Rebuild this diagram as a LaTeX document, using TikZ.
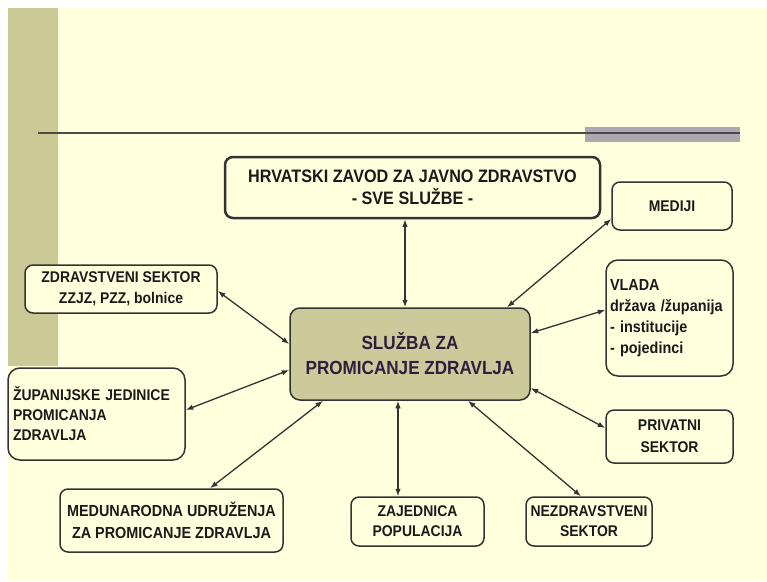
\documentclass[tikz,border=0pt]{standalone}
\usepackage{fontspec}
\setmainfont[FakeStretch=0.9]{Liberation Sans}
\usetikzlibrary{arrows.meta}
\definecolor{bgyel}{HTML}{FFFFDD}
\definecolor{band}{HTML}{CBCA96}
\definecolor{barg}{HTML}{ABA7B3}
\definecolor{linedark}{HTML}{4A4A4A}
\definecolor{boxline}{HTML}{333333}
\definecolor{centerfill}{HTML}{CACA9A}
\definecolor{centertext}{HTML}{2D1F3D}
\definecolor{txt}{HTML}{1A1A1A}
\tikzset{
  box/.style={draw=boxline, line width=1.5pt, rounded corners=8pt, fill=bgyel,
    inner sep=0pt, text=txt, font=\bfseries\fontsize{15.5}{21}\selectfont},
  arr/.style={draw=boxline, line width=1.3pt, {Latex[length=7.5pt,width=5.5pt]}-{Latex[length=7.5pt,width=5.5pt]}}
}
\begin{document}
\begin{tikzpicture}[x=1pt,y=-1pt]
\useasboundingbox (0,0) rectangle (767,581);
\fill[white] (0,0) rectangle (767,581);
\fill[bgyel] (8,8) rectangle (767,581);
\fill[band] (8,8) rectangle (58,366);
\fill[barg] (585,127) rectangle (740,142);
\draw[linedark, line width=2pt] (38,133) -- (740,133);

\node[box, line width=2.5pt, minimum width=375pt, minimum height=61pt, align=center,
  font=\bfseries\fontsize{18}{22}\selectfont] (hz) at (412.5,187.5)
  {HRVATSKI ZAVOD ZA JAVNO ZDRAVSTVO\\- SVE SLUŽBE -};
\node[box, minimum width=120pt, minimum height=48pt] (med) at (672,206) {MEDIJI};
\node[box, minimum width=192pt, minimum height=48pt, align=center] (zs) at (121,289)
  {ZDRAVSTVENI SEKTOR\\ZZJZ, PZZ, bolnice};
\node[box, fill=centerfill, rounded corners=10pt, minimum width=240pt, minimum height=92pt,
  align=center, text=centertext, font=\bfseries\fontsize{19}{25}\selectfont] (sl) at (410,354)
  {SLUŽBA ZA\\PROMICANJE ZDRAVLJA};
\node[box, rounded corners=12pt, minimum width=127pt, minimum height=116pt, align=left,
  text width=119pt, inner xsep=4pt, font=\bfseries\fontsize{16}{21}\selectfont] (vl) at (669.5,318)
  {VLADA\\država /županija\\- institucije\\- pojedinci};
\node[box, minimum width=127pt, minimum height=53pt, align=center,
  font=\bfseries\fontsize{15.5}{22}\selectfont] (pr) at (669.5,436.5)
  {PRIVATNI\\SEKTOR};
\node[box, rounded corners=12pt, minimum width=177pt, minimum height=92pt, align=left,
  text width=167pt, inner xsep=5pt, font=\bfseries\fontsize{15.5}{20}\selectfont] (zj) at (96.5,414)
  {ŽUPANIJSKE JEDINICE\\PROMICANJA\\ZDRAVLJA};
\node[box, minimum width=223pt, minimum height=63pt, align=center,
  font=\bfseries\fontsize{16}{22}\selectfont] (mu) at (171.5,520.5)
  {MEDUNARODNA UDRUŽENJA\\ZA PROMICANJE ZDRAVLJA};
\node[box, minimum width=133pt, minimum height=49pt, align=center,
  font=\bfseries\fontsize{15.5}{20}\selectfont] (za) at (417.5,521.5)
  {ZAJEDNICA\\POPULACIJA};
\node[box, minimum width=126pt, minimum height=49pt, align=center,
  font=\bfseries\fontsize{15.5}{20}\selectfont] (nz) at (589,521.5)
  {NEZDRAVSTVENI\\SEKTOR};

\draw[arr] ([xshift=-7.5pt]hz.south) -- ([xshift=-5pt]sl.north);
\draw[arr] ([yshift=-13pt]med.west) -- ([xshift=97pt]sl.north);
\draw[arr] ([yshift=8pt]vl.west) -- ([yshift=21pt]sl.east);
\draw[arr] ([yshift=8.5pt]pr.west) -- ([yshift=-34pt]sl.east);
\draw[arr] ([xshift=-8pt]nz.north) -- ([xshift=58pt]sl.south);
\draw[arr] ([xshift=-19.5pt]za.north) -- ([xshift=-12pt]sl.south);
\draw[arr] ([xshift=38.5pt]mu.north) -- ([xshift=-87pt]sl.south);
\draw[arr] ([yshift=4pt]zj.east) -- ([yshift=-16pt]sl.west);
\draw[arr] ([yshift=-2pt]zs.east) -- ([yshift=10pt]sl.west);
\end{tikzpicture}
\end{document}
